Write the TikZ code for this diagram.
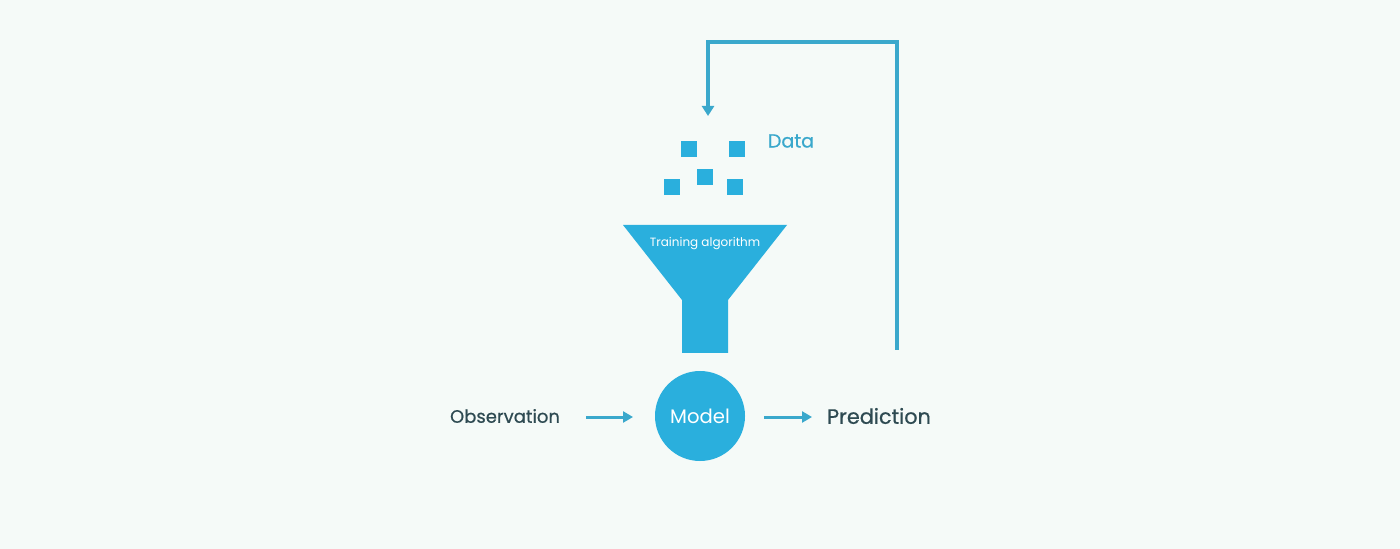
\documentclass[tikz,border=0pt]{standalone}
\usepackage{fontspec}
\setmainfont{Poppins}
\usetikzlibrary{arrows.meta}
\definecolor{bgc}{HTML}{F5FAF8}
\definecolor{blu}{HTML}{2AAFDD}
\definecolor{lin}{HTML}{3AA8CC}
\definecolor{txt}{HTML}{2E4A52}
\newcommand{\medw}{\addfontfeature{FakeBold=0.6}}
\tikzset{
  sq/.style={fill=blu, minimum size=8pt, inner sep=0pt, draw=none},
  lbl/.style={text=txt, inner sep=0pt},
  flow/.style={draw=lin, line width=1.5pt, -{Triangle[length=5pt,width=5.5pt]}},
}
\begin{document}
\begin{tikzpicture}[x=0.5pt,y=-0.5pt]
\fill[bgc] (0,0) rectangle (1400,549);
\useasboundingbox (0,0) rectangle (1400,549);
% feedback loop
\coordinate (fb0) at (897,350);
\coordinate (fb1) at (897,42);
\coordinate (fb2) at (708,42);
\coordinate (fb3) at (708,116);
\draw[flow, line width=1.6pt, line join=miter, -{Triangle[length=5pt,width=6pt]}] (fb0) -- (fb1) -- (fb2) -- (fb3);
% data squares
\node[sq] (s1) at (689,149) {};
\node[sq] (s2) at (737,149) {};
\node[sq] (s3) at (705,177) {};
\node[sq] (s4) at (672,187) {};
\node[sq] (s5) at (735,187) {};
\node[text=lin, inner sep=0pt, font=\fontsize{9.5}{10}\selectfont\medw] (data) at (791,141) {Data};
% funnel
\fill[blu] (623,225) -- (787,225) -- (728,300) -- (728,353) -- (682,353) -- (682,300) -- cycle;
\node[text=white, inner sep=0pt, font=\fontsize{6}{7}\selectfont] (train) at (705,244) {Training algorithm};
% model
\node[circle, fill=blu, minimum size=45pt, inner sep=0pt, text=white, font=\fontsize{9.8}{10}\selectfont] (model) at (700,416) {Model};
\node[lbl, font=\fontsize{9}{10}\selectfont\medw] (obs) at (505,416) {Observation};
\node[lbl, font=\fontsize{10.4}{11}\selectfont\medw] (pred) at (879,416) {Prediction};
\coordinate (a0) at (586,417);
\coordinate (a1) at (633,417);
\coordinate (b0) at (764,417);
\coordinate (b1) at (812,417);
\draw[flow] (a0) -- (a1);
\draw[flow] (b0) -- (b1);
\end{tikzpicture}
\end{document}
